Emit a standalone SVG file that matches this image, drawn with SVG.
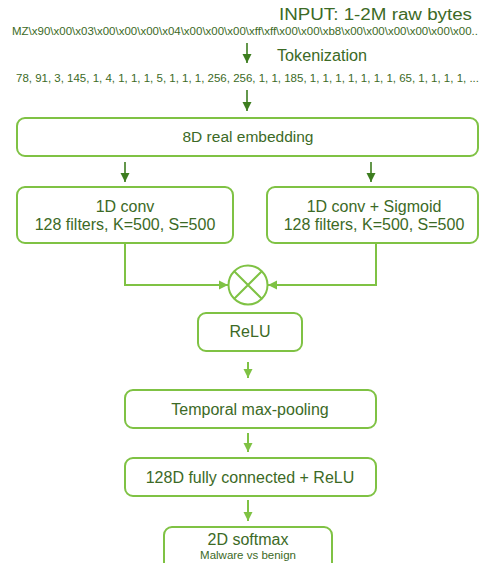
<svg xmlns="http://www.w3.org/2000/svg" width="480" height="563" viewBox="0 0 480 563">
<style>
text{font-family:"Liberation Sans",Arial,sans-serif;fill:#3c6a26}
.box{fill:#fff;stroke:#7fc244;stroke-width:2}
.big{font-size:16px;text-anchor:middle}
.hd{font-size:16px}
.sm{font-size:10.5px}
.dk{stroke:#3d7d1f;stroke-width:1.6;fill:none}
.lt{stroke:#7fc244;stroke-width:2;fill:none}
</style>
<defs>
<marker id="ad" viewBox="0 0 10 10" refX="10" refY="5" markerWidth="9" markerHeight="10" markerUnits="userSpaceOnUse" orient="auto"><path d="M0,0 L10,5 L0,10 z" fill="#3d7d1f"/></marker>
<marker id="al" viewBox="0 0 10 10" refX="10" refY="5" markerWidth="9" markerHeight="10" markerUnits="userSpaceOnUse" orient="auto"><path d="M0,0 L10,5 L0,10 z" fill="#7fc244"/></marker>
</defs>
<rect width="480" height="563" fill="#fff"/>
<g id="input">
<text class="hd" x="279" y="20" textLength="193" lengthAdjust="spacingAndGlyphs">INPUT: 1-2M raw bytes</text>
<text class="sm" x="12" y="35" textLength="466" lengthAdjust="spacingAndGlyphs">MZ\x90\x00\x03\x00\x00\x00\x04\x00\x00\x00\xff\xff\x00\x00\xb8\x00\x00\x00\x00\x00\x00..</text>
</g>
<g id="tokenization">
<text class="hd" x="277" y="61" textLength="90" lengthAdjust="spacingAndGlyphs">Tokenization</text>
<text class="sm" x="16" y="82" textLength="463" lengthAdjust="spacingAndGlyphs">78, 91, 3, 145, 1, 4, 1, 1, 1, 5, 1, 1, 1, 256, 256, 1, 1, 185, 1, 1, 1, 1, 1, 1, 1, 65, 1, 1, 1, 1, ...</text>
</g>
<g id="embedding">
<rect class="box" x="17" y="118" width="461" height="38" rx="8"/>
<text class="big" x="248" y="142" style="font-size:15.5px">8D real embedding</text>
</g>
<g id="conv">
<rect class="box" x="17" y="187" width="216" height="56" rx="8"/>
<text class="big" x="125" y="212">1D conv</text>
<text class="big" x="125" y="230">128 filters, K=500, S=500</text>
</g>
<g id="conv-sigmoid">
<rect class="box" x="267" y="187" width="211" height="56" rx="8"/>
<text class="big" x="374" y="212">1D conv + Sigmoid</text>
<text class="big" x="374" y="230">128 filters, K=500, S=500</text>
</g>
<g id="multiply">
<circle class="lt" cx="248" cy="285" r="19.5"/>
<path class="lt" d="M234.2,271.2 L261.8,298.8 M261.8,271.2 L234.2,298.8"/>
</g>
<g id="relu">
<rect class="box" x="198" y="313" width="104" height="38" rx="8"/>
<text class="big" x="250" y="337">ReLU</text>
</g>
<g id="maxpool">
<rect class="box" x="125" y="390" width="251" height="38" rx="8"/>
<text class="big" x="250" y="415">Temporal max-pooling</text>
</g>
<g id="fc">
<rect class="box" x="125" y="458" width="251" height="38" rx="8"/>
<text class="big" x="250" y="483">128D fully connected + ReLU</text>
</g>
<g id="softmax">
<rect class="box" x="164" y="527" width="168" height="46" rx="8"/>
<text class="big" x="248" y="545">2D softmax</text>
<text x="248" y="559" style="font-size:11.5px;text-anchor:middle">Malware vs benign</text>
</g>
<g id="connectors">
<line class="dk" x1="247" y1="43" x2="247" y2="63" marker-end="url(#ad)"/>
<line class="dk" x1="247" y1="90" x2="247" y2="111" marker-end="url(#ad)"/>
<line class="dk" x1="125" y1="162" x2="125" y2="182" marker-end="url(#ad)"/>
<line class="dk" x1="371" y1="162" x2="371" y2="182" marker-end="url(#ad)"/>
<path class="lt" d="M125,243 V285 H228" marker-end="url(#al)"/>
<path class="lt" d="M376,243 V285 H268" marker-end="url(#al)"/>
<line class="lt" x1="248" y1="362" x2="248" y2="378" marker-end="url(#al)"/>
<line class="lt" x1="248" y1="433" x2="248" y2="452" marker-end="url(#al)"/>
<line class="lt" x1="248" y1="500" x2="248" y2="521" marker-end="url(#al)"/>
</g>
</svg>
